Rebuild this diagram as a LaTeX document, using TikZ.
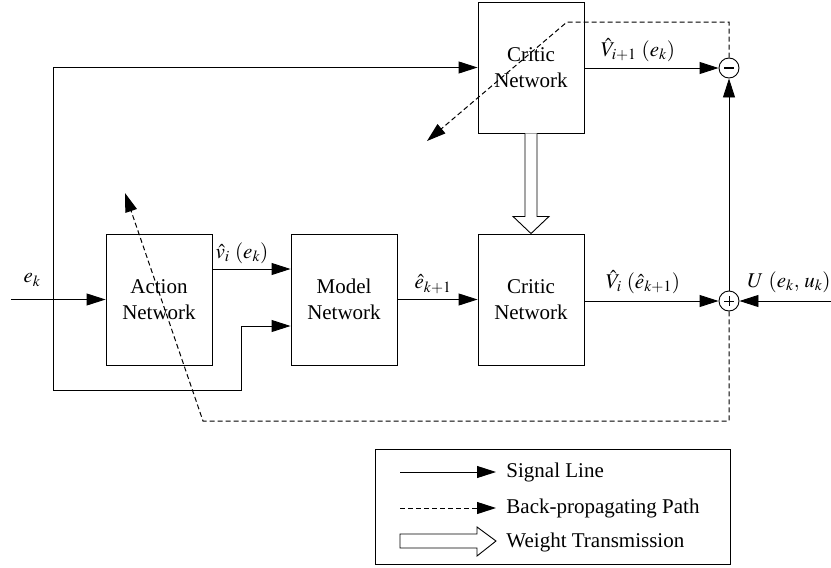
\documentclass[tikz,border=0pt]{standalone}
\usepackage{mathptmx}
\usepackage{fontspec}
\setmainfont{Liberation Serif}
\usetikzlibrary{arrows.meta,calc}
\tikzset{
  blk/.style={draw, minimum width=106pt, minimum height=131pt, align=center, inner sep=0pt, font=\fontsize{21}{26}\selectfont},
  sig/.style={-{Triangle[length=19pt,width=12pt]}},
  bp/.style={dash pattern=on 5pt off 3pt, line width=1pt, -{Triangle[length=19pt,width=12pt]}},
  sumc/.style={circle, draw, minimum size=20pt, inner sep=0pt},
  lbl/.style={font=\fontsize{21}{25}\selectfont, inner sep=0pt},
  hollow/.style={draw, fill=white, line join=miter},
}
\begin{document}
\begin{tikzpicture}[x=1pt,y=-1pt,line width=0.9pt]
\useasboundingbox (0,0) rectangle (831,568);
% blocks
\node[blk] (critic1) at (531,67.5) {Critic\\Network};
\node[blk] (critic2) at (531,299.5) {Critic\\Network};
\node[blk] (action) at (159,299.5) {Action\\Network};
\node[blk] (model) at (344,299.5) {Model\\Network};
\node[sumc] (minus) at (729,68) {};
\node[sumc] (plus) at (729,301) {};
\draw[line width=1.2pt] ($(minus)+(-5,0)$) -- ($(minus)+(5,0)$);
\draw[line width=0.8pt] ($(plus)+(-5,0)$) -- ($(plus)+(5,0)$) ($(plus)+(0,-5)$) -- ($(plus)+(0,5)$);
% signal lines
\coordinate (ein) at (11,299.5);
\coordinate (br) at (53,299.5);
\draw[sig] (ein) -- (action.west);
\draw[sig] (br) |- (critic1.west);
\coordinate (m2) at ($(model.west)+(0,26.5)$);
\draw[sig] (br) -- ++(0,90.5) -| ($(m2)+(-49,0)$) -- (m2);
\draw[sig] ($(action.east)+(0,-30.5)$) -- ($(model.west)+(0,-30.5)$);
\draw[sig] (model.east) -- (critic2.west);
\draw[sig] (critic2.east|-plus) -- (plus);
\coordinate (uin) at (831,301);
\draw[sig] (uin) -- (plus);
\draw[sig] (critic1.east|-minus) -- (minus);
\draw[sig] (plus) -- (minus);
% back-propagating paths
\coordinate (t1) at (729,22);
\coordinate (t2) at (567,22);
\coordinate (t3) at (427,141);
\draw[bp] (minus.north) -- (t1) -- (t2) -- (t3);
\coordinate (b1) at (729,421);
\coordinate (b2) at (203,421);
\coordinate (b3) at (125,193);
\draw[bp] (plus.south) -- (b1) -- (b2) -- (b3);
% weight transmission
\draw[hollow] ($(critic1.south)+(-6,0)$) -- ($(critic1.south)+(-6,83)$) -- ($(critic1.south)+(-18,83)$)
  -- (critic2.north) -- ($(critic1.south)+(18,83)$) -- ($(critic1.south)+(6,83)$) -- ($(critic1.south)+(6,0)$);
% labels
\node[lbl] (lek) at (32,280) {$e_k$};
\node[lbl] (lvi) at (242,253) {$\hat{v}_i\ (e_k)$};
\node[lbl] (lek1) at (433,284) {$\hat{e}_{k+1}$};
\node[lbl] (lVi) at (643,282) {$\hat{V}_i\ (\hat{e}_{k+1})$};
\node[lbl] (lU) at (789,282) {$U\ (e_k,\,u_k)$};
\node[lbl] (lVi1) at (638,50) {$\hat{V}_{i+1}\ (e_k)$};
% legend
\node[draw, minimum width=355pt, minimum height=115pt, inner sep=0pt] (legend) at (552.5,506.5) {};
\coordinate (s1) at (400,472);
\coordinate (s2) at (496,472);
\draw[sig] (s1) -- (s2);
\node[lbl, anchor=west] (ls) at (506,472) {Signal Line};
\coordinate (d1) at (400,508);
\coordinate (d2) at (496,508);
\draw[bp] (d1) -- (d2);
\node[lbl, anchor=west] (ld) at (506,508) {Back-propagating Path};
\draw[hollow] (400,534) -- (477,534) -- (477,527) -- (496,541) -- (477,556) -- (477,548) -- (400,548) -- cycle;
\node[lbl, anchor=west] (lw) at (506,542) {Weight Transmission};
\end{tikzpicture}
\end{document}
